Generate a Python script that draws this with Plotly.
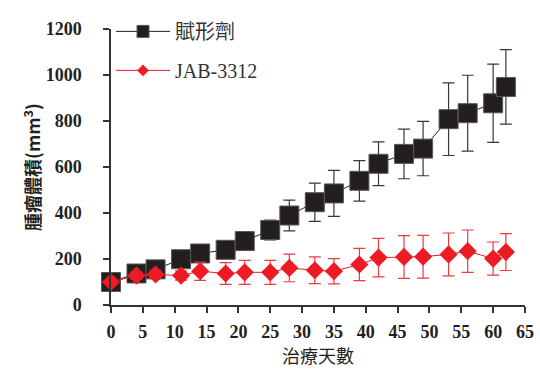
import plotly.graph_objects as go

days_vehicle = [0, 4, 7, 11, 14, 18, 21, 25, 28, 32, 35, 39, 42, 46, 49, 53, 56, 60, 62]
vehicle_mean = [100, 137, 155, 199, 224, 240, 278, 326, 389, 447, 485, 540, 614, 657, 680, 808, 834, 877, 948]
vehicle_err = [10, 12, 15, 18, 20, 22, 25, 43, 67, 83, 100, 88, 95, 108, 118, 158, 165, 170, 162]

days_jab = [0, 4, 7, 11, 14, 18, 21, 25, 28, 32, 35, 39, 42, 46, 49, 53, 56, 60, 62]
jab_mean = [100, 128, 133, 128, 147, 137, 142, 142, 161, 151, 147, 176, 206, 209, 210, 220, 234, 202, 230]
jab_err = [10, 15, 18, 20, 40, 47, 52, 52, 60, 58, 55, 70, 84, 93, 93, 93, 92, 72, 80]

x_ticks = [0, 5, 10, 15, 20, 25, 30, 35, 40, 45, 50, 55, 60, 65]
y_ticks = [0, 200, 400, 600, 800, 1000, 1200]

name_vehicle = "賦形劑"
name_jab = "JAB-3312"
x_title = "治療天數"
y_title = "腫瘤體積(mm<sup>3</sup>)"

DARK = "#231f20"
RED = "#ed1c24"
SERIF = "Liberation Serif, Noto Sans CJK TC, serif"
CJK = "Noto Sans CJK TC, Liberation Serif, sans-serif"

fig = go.Figure()
fig.add_trace(go.Scatter(
    x=days_vehicle, y=vehicle_mean, name=name_vehicle, mode="lines+markers",
    showlegend=False,
    line=dict(color=DARK, width=1),
    marker=dict(symbol="square", size=19, color=DARK, line=dict(color="#5a5657", width=1)),
    error_y=dict(type="data", array=vehicle_err, visible=True, color="#3a3637", thickness=1.2, width=6),
    cliponaxis=False,
))
fig.add_trace(go.Scatter(
    x=days_jab, y=jab_mean, name=name_jab, mode="lines+markers",
    showlegend=False,
    line=dict(color=RED, width=1),
    marker=dict(symbol="diamond", size=14, color=RED, line=dict(color=RED, width=0)),
    error_y=dict(type="data", array=jab_err, visible=True, color="#ee3a40", thickness=1.2, width=6),
    cliponaxis=False,
))
# legend entries (styled keys only)
fig.add_trace(go.Scatter(
    x=[None], y=[None], name=name_vehicle, mode="lines+markers", legendgroup="a",
    line=dict(color=DARK, width=1),
    marker=dict(symbol="square", size=12, color=DARK, line=dict(color="#5a5657", width=1)),
))
fig.add_trace(go.Scatter(
    x=[None], y=[None], name=name_jab, mode="lines+markers", legendgroup="b",
    line=dict(color=RED, width=1),
    marker=dict(symbol="diamond", size=9, color=RED, line=dict(color=RED, width=0)),
))

fig.update_layout(
    width=540, height=370,
    margin=dict(l=111, r=15, t=14, b=65),
    plot_bgcolor="white", paper_bgcolor="white",
    showlegend=True,
    legend=dict(
        x=0.0, y=1.062, xanchor="left", yanchor="top",
        font=dict(family=SERIF, size=20, color="#333"),
        bgcolor="rgba(0,0,0,0)",
        itemwidth=54,
        tracegroupgap=10,
    ),
    xaxis=dict(
        range=[0, 65], tickvals=x_ticks, ticktext=[str(v) for v in x_ticks],
        showgrid=False, zeroline=False, automargin=False,
        showline=True, linecolor="#333", linewidth=1.5,
        ticks="outside", ticklen=6, tickwidth=1.5, tickcolor="#333",
        tickfont=dict(family=SERIF, size=18, color=DARK, weight="bold"),
        ticklabelstandoff=4,
        title=dict(text=x_title, font=dict(family=CJK, size=18, color=DARK), standoff=0),
    ),
    yaxis=dict(
        range=[0, 1200], tickvals=y_ticks, ticktext=[str(v) for v in y_ticks],
        showgrid=False, zeroline=False, automargin=False,
        showline=True, linecolor="#333", linewidth=1.5,
        ticks="outside", ticklen=6, tickwidth=1.5, tickcolor="#333",
        tickfont=dict(family=SERIF, size=18, color=DARK, weight="bold"),
        ticklabelstandoff=18,
        title=dict(text="<b>" + y_title + "</b>", font=dict(family=CJK, size=18, color=DARK), standoff=0),
    ),
)

fig.write_html("out.html")
